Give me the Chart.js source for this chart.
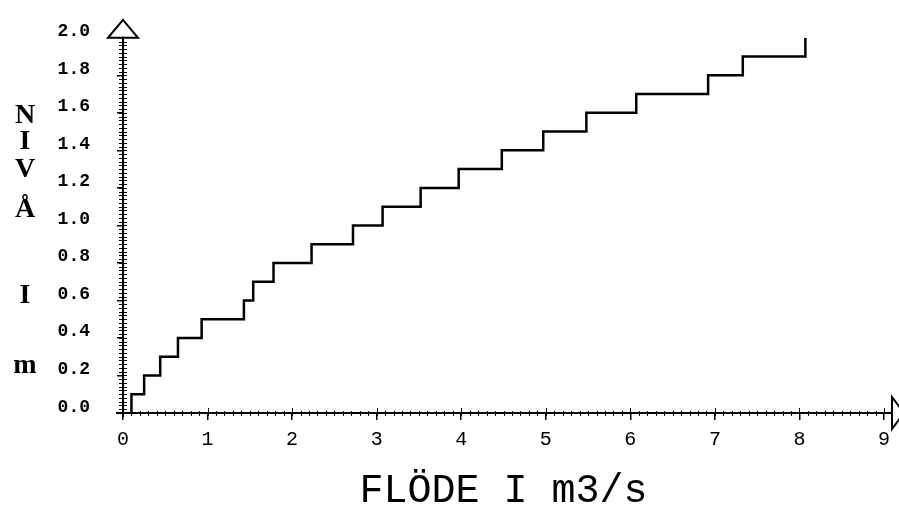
<!DOCTYPE html>
<html><head><meta charset="utf-8">
<script src="https://cdn.jsdelivr.net/npm/chart.js@4"></script>
<style>html,body{margin:0;padding:0;background:#fff}#wrap{width:899px;height:510px;position:relative}</style>
</head><body><div id="wrap"><canvas id="c"></canvas></div>
<script>
// Data
const flow  = [0.10, 0.10, 0.25, 0.44, 0.65, 0.93, 1.43, 1.54, 1.78, 2.23, 2.72, 3.07, 3.52, 3.97, 4.48, 4.97, 5.48, 6.07, 6.92, 7.33, 8.07];
const level = [0.0, 0.1, 0.2, 0.3, 0.4, 0.5, 0.6, 0.7, 0.8, 0.9, 1.0, 1.1, 1.2, 1.3, 1.4, 1.5, 1.6, 1.7, 1.8, 1.9, 2.0];
const xTickLabels = ['0','1','2','3','4','5','6','7','8','9'];
const yTickLabels = ['0.0','0.2','0.4','0.6','0.8','1.0','1.2','1.4','1.6','1.8','2.0'];
const xTitle = 'FLÖDE I m3/s';
const yTitleChars = ['N','I','V','Å','I','m'];

const yTitleBaselines = [123, 149, 177, 217, 303, 373];

const decor = {
  id: 'decor',
  afterDraw(chart) {
    const ctx = chart.ctx;
    const xs = chart.scales.x, ys = chart.scales.y;
    const x0 = xs.getPixelForValue(0), y0 = ys.getPixelForValue(0);
    const yTop = ys.getPixelForValue(2), xEnd = xs.getPixelForValue(9);
    ctx.save();
    ctx.strokeStyle = '#000';
    ctx.lineWidth = 1;
    for (let i = 1; i < 90; i++) {
      const px = Math.round(xs.getPixelForValue(i / 10)) + 0.5;
      ctx.beginPath(); ctx.moveTo(px, y0 - 2); ctx.lineTo(px, y0 + 3); ctx.stroke();
    }
    for (let i = 0; i <= 9; i++) {
      const px = Math.round(xs.getPixelForValue(i)) + 0.5;
      ctx.beginPath(); ctx.moveTo(px, y0 - 5); ctx.lineTo(px, y0); ctx.stroke();
    }
    for (let i = 1; i < 100; i++) {
      const py = Math.round(ys.getPixelForValue(i / 50)) + 0.5;
      ctx.beginPath(); ctx.moveTo(x0 - 4, py); ctx.lineTo(x0 + 4, py); ctx.stroke();
    }
    ctx.lineWidth = 2;
    ctx.beginPath(); ctx.moveTo(x0 - 7, y0); ctx.lineTo(xEnd + 8, y0); ctx.stroke();
    ctx.beginPath(); ctx.moveTo(x0, y0 + 4); ctx.lineTo(x0, yTop - 1); ctx.stroke();
    ctx.beginPath();
    ctx.moveTo(x0, yTop - 18); ctx.lineTo(x0 + 15, yTop); ctx.lineTo(x0 - 15, yTop); ctx.closePath(); ctx.stroke();
    ctx.beginPath();
    ctx.moveTo(xEnd + 8, y0 - 16); ctx.lineTo(xEnd + 20, y0); ctx.lineTo(xEnd + 8, y0 + 16); ctx.closePath(); ctx.stroke();
    ctx.fillStyle = '#000';
    ctx.textBaseline = 'alphabetic';
    ctx.font = 'bold 28px "Liberation Serif"';
    ctx.textAlign = 'center';
    yTitleChars.forEach((ch, i) => ctx.fillText(ch, 25, yTitleBaselines[i]));
    ctx.font = '40px "Liberation Mono"';
    ctx.fillText(xTitle, (chart.chartArea.left + chart.chartArea.right) / 2, 502);
    ctx.restore();
  }
};

new Chart(document.getElementById('c'), {
  type: 'line',
  data: {
    datasets: [{
      data: flow.map((f, i) => ({ x: f, y: level[i] })),
      borderColor: '#000',
      borderWidth: 2.5,
      pointRadius: 0,
      stepped: 'before',
      fill: false
    }]
  },
  options: {
    responsive: true,
    maintainAspectRatio: false,
    animation: false,
    layout: { padding: { left: 0, top: 33, right: 15, bottom: 0 } },
    plugins: { legend: { display: false }, tooltip: { enabled: false } },
    scales: {
      x: {
        type: 'linear', min: 0, max: 9,
        afterFit(s) { s.height = 97; },
        border: { display: false },
        grid: { drawOnChartArea: false, drawTicks: true, tickLength: 7, color: '#000', lineWidth: 1.5 },
        ticks: {
          stepSize: 1, padding: 8, color: '#000',
          font: { family: 'Liberation Mono', size: 20 },
          callback: (v) => xTickLabels[Math.round(v)]
        }
      },
      y: {
        type: 'linear', min: 0, max: 2,
        afterFit(s) { s.width = 123; },
        border: { display: false },
        grid: { drawOnChartArea: false, drawTicks: true, tickLength: 6, color: '#000', lineWidth: 1.5 },
        ticks: {
          stepSize: 0.2, padding: 27, labelOffset: -6, color: '#000',
          font: { family: 'Liberation Mono', size: 18, weight: 'bold' },
          callback: (v, i) => yTickLabels[i]
        }
      }
    }
  },
  plugins: [decor]
});
</script>
</body></html>
